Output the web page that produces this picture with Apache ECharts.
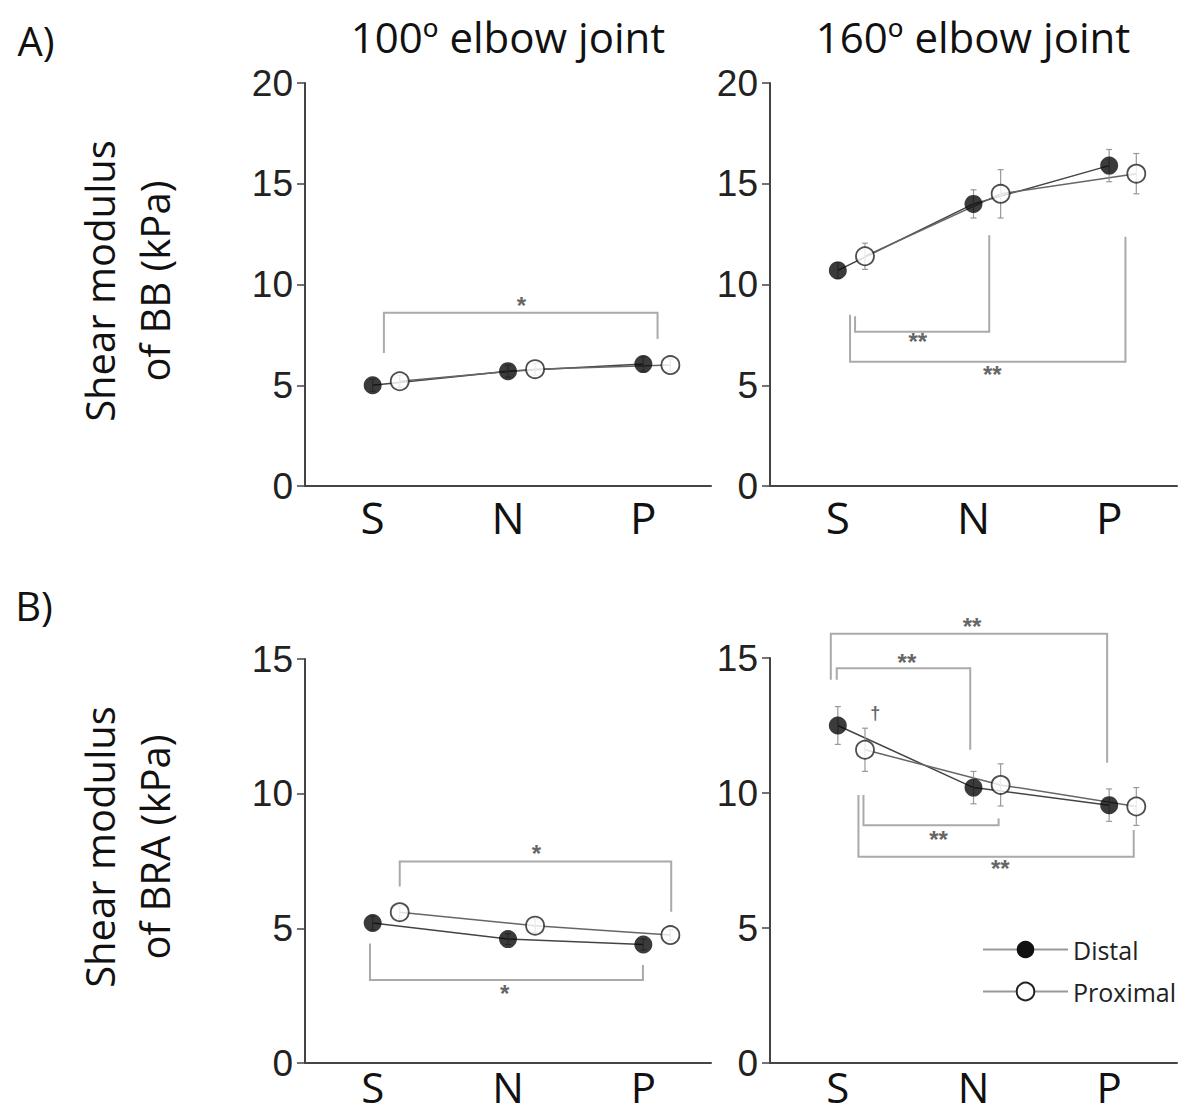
<!DOCTYPE html>
<html><head><meta charset="utf-8">
<script src="https://cdn.jsdelivr.net/npm/echarts@6/dist/echarts.min.js"></script>
<style>html,body{margin:0;padding:0;background:#fff}#chart{width:1185px;height:1114px}</style>
</head><body><div id="chart"></div>
<script>
// ---------- data ----------
const categories = ['S', 'N', 'P'];
const bbTicks = [0, 5, 10, 15, 20];
const braTicks = [0, 5, 10, 15];

const bb100Distal = [5.0, 5.7, 6.05];
const bb100Proximal = [5.2, 5.8, 6.0];
const bb100DistalErr = [0.3, 0.3, 0.35];
const bb100ProximalErr = [0.3, 0.3, 0.3];

const bb160Distal = [10.7, 14.0, 15.9];
const bb160Proximal = [11.4, 14.5, 15.5];
const bb160DistalErr = [0.4, 0.7, 0.8];
const bb160ProximalErr = [0.65, 1.2, 1.0];

const bra100Distal = [5.2, 4.6, 4.4];
const bra100Proximal = [5.6, 5.1, 4.75];
const bra100DistalErr = [0.25, 0.2, 0.2];
const bra100ProximalErr = [0.25, 0.25, 0.2];

const bra160Distal = [12.5, 10.2, 9.55];
const bra160Proximal = [11.6, 10.3, 9.5];
const bra160DistalErr = [0.7, 0.6, 0.6];
const bra160ProximalErr = [0.8, 0.78, 0.7];

// significance brackets: [xLeft, xRight, yBar, yLeftEnd, yRightEnd] (data units)
const bracketsBB100 = [[0.083, 2.105, 8.6, 6.6, 7.3]];
const starsBB100 = [[1.1, 8.98]];
const starTextBB100 = ['*'];

const bracketsBB160 = [[0.127, 1.116, 7.66, 8.42, 12.45], [0.09, 2.12, 6.17, 8.5, 12.37]];
const starsBB160 = [[0.59, 7.16], [1.138, 5.51]];
const starTextBB160 = ['**', '**'];

const bracketsBRA100 = [[0.2, 2.206, 7.48, 6.55, 5.62], [-0.02, 1.997, 3.08, 4.44, 3.64]];
const starsBRA100 = [[1.21, 7.79], [0.976, 2.59]];
const starTextBRA100 = ['*', '*'];

const bracketsBRA160 = [[-0.052, 1.985, 15.9, 14.19, 11.12], [-0.008, 0.976, 14.62, 14.19, 11.6],
                        [0.189, 1.185, 8.81, 9.93, 9.06], [0.152, 2.181, 7.64, 9.93, 8.63]];
const starsBRA160 = [[0.989, 16.16], [0.509, 14.83], [0.742, 8.29], [1.197, 7.21], [0.275, 12.96]];
const starTextBRA160 = ['**', '**', '**', '**', '\u2020'];

// ---------- layout ----------
const OFFSET = 0.2; // proximal points drawn slightly right of category
const panels = [
  {grid: {left: 305, top: 83, width: 406, height: 403}, lab: {fontSize: 44, margin: 13}, ticks: bbTicks, d: bb100Distal, p: bb100Proximal, de: bb100DistalErr, pe: bb100ProximalErr, br: bracketsBB100, st: starsBB100, stt: starTextBB100},
  {grid: {left: 770, top: 83, width: 407, height: 403}, lab: {fontSize: 44, margin: 13}, ticks: bbTicks, d: bb160Distal, p: bb160Proximal, de: bb160DistalErr, pe: bb160ProximalErr, br: bracketsBB160, st: starsBB160, stt: starTextBB160},
  {grid: {left: 305, top: 659, width: 406, height: 404}, lab: {fontSize: 42, margin: 5}, ticks: braTicks, d: bra100Distal, p: bra100Proximal, de: bra100DistalErr, pe: bra100ProximalErr, br: bracketsBRA100, st: starsBRA100, stt: starTextBRA100},
  {grid: {left: 770, top: 658, width: 407, height: 405}, lab: {fontSize: 42, margin: 5}, ticks: braTicks, d: bra160Distal, p: bra160Proximal, de: bra160DistalErr, pe: bra160ProximalErr, br: bracketsBRA160, st: starsBRA160, stt: starTextBRA160}
];

const AX = '#444';
const grids = [], xAxes = [], yAxes = [], series = [];
panels.forEach((pn, g) => {
  grids.push(Object.assign({containLabel: false}, pn.grid));
  xAxes.push({
    type: 'category', gridIndex: g, data: categories, boundaryGap: true,
    axisLine: {onZero: false, lineStyle: {color: AX, width: 2}},
    axisTick: {alignWithLabel: true, length: 8, lineStyle: {color: AX, width: 1.5}},
    axisLabel: {fontFamily: 'Open Sans', fontSize: pn.lab.fontSize, lineHeight: 36, color: '#111', margin: pn.lab.margin}
  });
  xAxes.push({type: 'value', gridIndex: g, min: -0.5, max: 2.5, show: false});
  yAxes.push({
    type: 'value', gridIndex: g, min: pn.ticks[0], max: pn.ticks[pn.ticks.length - 1], interval: 5,
    axisLine: {show: true, onZero: false, lineStyle: {color: AX, width: 2}},
    axisTick: {show: true, length: 8, lineStyle: {color: AX, width: 1.5}},
    splitLine: {show: false},
    axisLabel: {fontFamily: 'Liberation Sans', fontSize: 37, color: '#222', margin: 12}
  });
  const xi = 2 * g + 1, yi = g;
  const dData = pn.d.map((v, i) => [i, v]);
  const pData = pn.p.map((v, i) => [i + OFFSET, v]);
  // brackets
  series.push({
    type: 'custom', xAxisIndex: xi, yAxisIndex: yi, z: 1, silent: true, clip: false,
    data: pn.br,
    renderItem: (params, api) => {
      const xl = api.value(0), xr = api.value(1), yb = api.value(2), yl = api.value(3), yr = api.value(4);
      return {type: 'polyline', shape: {points: [api.coord([xl, yl]), api.coord([xl, yb]), api.coord([xr, yb]), api.coord([xr, yr])]},
        style: {stroke: '#aaa', lineWidth: 2, fill: 'none'}};
    }
  });
  // stars
  series.push({
    type: 'custom', xAxisIndex: xi, yAxisIndex: yi, z: 1, silent: true, clip: false,
    data: pn.st,
    renderItem: (params, api) => {
      const c = api.coord([api.value(0), api.value(1)]);
      const t = pn.stt[params.dataIndex];
      return {type: 'text', x: c[0], y: c[1],
        style: {text: t, fill: '#666', fontFamily: 'Liberation Sans', fontWeight: 'bold', fontSize: t === '\u2020' ? 18 : 24,
          align: 'center', verticalAlign: 'middle', textAlign: 'center', textVerticalAlign: 'middle'}};
    }
  });
  // lines
  series.push({name: 'Distal', type: 'line', xAxisIndex: xi, yAxisIndex: yi, data: dData, z: 2, silent: true,
    showSymbol: false, symbol: 'circle', itemStyle: {color: '#111'}, lineStyle: {color: '#444', width: 1.5}});
  series.push({name: 'Proximal', type: 'line', xAxisIndex: xi, yAxisIndex: yi, data: pData, z: 2, silent: true,
    showSymbol: false, symbol: 'emptyCircle', itemStyle: {color: '#222'}, lineStyle: {color: '#666', width: 1.5}});
  // error bars
  const errData = pn.d.map((v, i) => [i, v, pn.de[i]]).concat(pn.p.map((v, i) => [i + OFFSET, v, pn.pe[i]]));
  series.push({
    type: 'custom', xAxisIndex: xi, yAxisIndex: yi, z: 3, silent: true, clip: false,
    data: errData,
    renderItem: (params, api) => {
      const x = api.value(0), y = api.value(1), e = api.value(2);
      const t = api.coord([x, y + e]), b = api.coord([x, y - e]);
      const st = {stroke: '#999', lineWidth: 1.2};
      return {type: 'group', children: [
        {type: 'line', shape: {x1: t[0], y1: t[1], x2: b[0], y2: b[1]}, style: st},
        {type: 'line', shape: {x1: t[0] - 3, y1: t[1], x2: t[0] + 3, y2: t[1]}, style: st},
        {type: 'line', shape: {x1: b[0] - 3, y1: b[1], x2: b[0] + 3, y2: b[1]}, style: st}
      ]};
    }
  });
  // markers
  series.push({name: 'Distal markers', type: 'scatter', xAxisIndex: xi, yAxisIndex: yi, data: dData, z: 5, silent: true,
    symbol: 'circle', symbolSize: 18, itemStyle: {color: '#0a0a0a'}});
  series.push({name: 'Proximal markers', type: 'scatter', xAxisIndex: xi, yAxisIndex: yi, data: pData, z: 5, silent: true,
    symbol: 'circle', symbolSize: 18, itemStyle: {color: '#fff', borderColor: '#222', borderWidth: 1.8}});
});

const txt = (text, x, y, size, extra) => Object.assign({
  type: 'text', x: x, y: y,
  style: {text: text, fill: '#111', fontFamily: 'Open Sans', fontSize: size, lineHeight: 55,
    align: 'center', verticalAlign: 'middle', textAlign: 'center', textVerticalAlign: 'middle'}
}, extra || {});

const option = {
  animation: false,
  backgroundColor: '#fff',
  grid: grids, xAxis: xAxes, yAxis: yAxes, series: series,
  legend: {
    data: ['Distal', 'Proximal'], orient: 'vertical', left: 977, top: 932, selectedMode: false,
    itemWidth: 85, itemHeight: 22, itemGap: 17,
    textStyle: {fontFamily: 'Open Sans', fontSize: 25, color: '#222'},
    lineStyle: {color: '#999', width: 2}
  },
  graphic: [
    txt('A)', 36, 40, 40),
    txt('B)', 34, 605, 40),
    txt('100\u00BA elbow joint', 508, 36, 42),
    txt('160\u00BA elbow joint', 973, 36, 42),
    txt('Shear modulus\nof BB (kPa)', 127, 281, 40, {rotation: Math.PI / 2}),
    txt('Shear modulus\nof BRA (kPa)', 127, 847, 40, {rotation: Math.PI / 2})
  ]
};
const chart = echarts.init(document.getElementById('chart'), null, {renderer: 'svg'});
chart.setOption(option);
</script></body></html>
